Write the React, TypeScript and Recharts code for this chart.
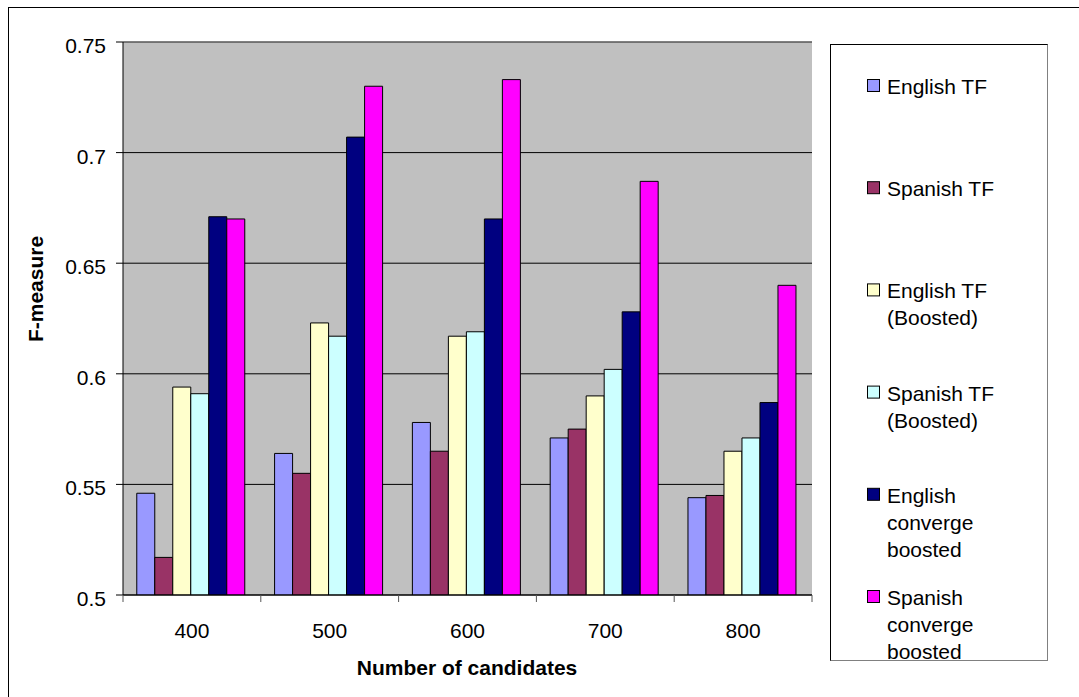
import React from 'react';
import { BarChart, Bar, XAxis, YAxis, CartesianGrid, ReferenceLine } from 'recharts';

const categories = ['400', '500', '600', '700', '800'];
const englishTF = [0.546, 0.564, 0.578, 0.571, 0.544];
const spanishTF = [0.517, 0.555, 0.565, 0.575, 0.545];
const englishTFBoosted = [0.594, 0.623, 0.617, 0.590, 0.565];
const spanishTFBoosted = [0.591, 0.617, 0.619, 0.602, 0.571];
const englishConverge = [0.671, 0.707, 0.670, 0.628, 0.587];
const spanishConverge = [0.670, 0.730, 0.733, 0.687, 0.640];
const yTicks = [0.5, 0.55, 0.6, 0.65, 0.7, 0.75];

const seriesNames = [
  'English TF',
  'Spanish TF',
  'English TF (Boosted)',
  'Spanish TF (Boosted)',
  'English converge boosted',
  'Spanish converge boosted',
];
const seriesColors = ['#9999FF', '#993366', '#FFFFCC', '#CCFFFF', '#000080', '#FF00FF'];
const seriesValues = [englishTF, spanishTF, englishTFBoosted, spanishTFBoosted, englishConverge, spanishConverge];

const series = seriesNames.map((name, i) => ({ key: 's' + i, name, color: seriesColors[i], values: seriesValues[i] }));

const data = categories.map((c, ci) => {
  const row: Record<string, any> = { category: c };
  series.forEach((s) => {
    row[s.key] = s.values[ci];
  });
  return row;
});

const FONT = '"Liberation Sans", Arial, sans-serif';

function wrap(text: string, maxChars: number): string[] {
  const words = text.split(' ');
  const lines: string[] = [];
  let cur = '';
  words.forEach((w) => {
    if (cur === '') cur = w;
    else if ((cur + ' ' + w).length <= maxChars) cur = cur + ' ' + w;
    else {
      lines.push(cur);
      cur = w;
    }
  });
  if (cur) lines.push(cur);
  return lines;
}

const XTick = (props: any) => {
  const { x, y, payload, index } = props;
  const axisW = typeof props.width === 'number' && props.width > 0 ? props.width : 689;
  const bw = axisW / categories.length;
  return (
    <g>
      <line x1={x - bw / 2} x2={x - bw / 2} y1={y} y2={y + 7} stroke="#555" strokeWidth={1} />
      {index === categories.length - 1 && (
        <line x1={x + bw / 2} x2={x + bw / 2} y1={y} y2={y + 7} stroke="#555" strokeWidth={1} />
      )}
      <text x={x} y={y + 43} textAnchor="middle" fontSize={21} fontFamily={FONT} fill="#000">
        {payload.value}
      </text>
    </g>
  );
};

const YTick = (props: any) => {
  const { x, y, payload } = props;
  return (
    <text x={x} y={y + 11} textAnchor="end" fontSize={21} fontFamily={FONT} fill="#000">
      {String(payload.value)}
    </text>
  );
};

export default function App() {
  return (
    <div style={{ position: 'fixed', left: 0, top: 0, width: 1079, height: 697, background: '#fff', overflow: 'hidden' }}>
      <div style={{ position: 'absolute', left: 8, top: 7, width: 1200, height: 1, background: '#000' }} />
      <div style={{ position: 'absolute', left: 8, top: 7, width: 1, height: 800, background: '#000' }} />
      <div style={{ position: 'absolute', left: 0, top: 0 }}>
        <BarChart
          width={1079}
          height={697}
          data={data}
          margin={{ top: 42, right: 267, bottom: 72, left: 0 }}
          barCategoryGap="10%"
          barGap={0}
        >
          <CartesianGrid vertical={false} stroke="#000" fill="#C0C0C0" fillOpacity={1} />
          <XAxis
            dataKey="category"
            height={30}
            axisLine={{ stroke: '#000', strokeWidth: 1 }}
            tickLine={false}
            tickSize={0}
            tickMargin={0}
            interval={0}
            tick={<XTick />}
            label={{
              content: () => (
                <text x={467} y={675} textAnchor="middle" fontSize={21} fontWeight="bold" fontFamily={FONT} fill="#000">
                  Number of candidates
                </text>
              ),
            }}
          />
          <YAxis
            width={123}
            domain={[0.5, 0.75]}
            ticks={yTicks}
            interval={0}
            allowDataOverflow
            axisLine={{ stroke: '#000', strokeWidth: 1 }}
            tickLine={{ stroke: '#000', strokeWidth: 1 }}
            tickSize={7}
            tickMargin={10}
            tick={<YTick />}
            label={{
              content: () => (
                <text
                  transform="translate(43,289) rotate(-90)"
                  textAnchor="middle"
                  fontSize={21}
                  fontWeight="bold"
                  fontFamily={FONT}
                  fill="#000"
                >
                  F-measure
                </text>
              ),
            }}
          />
          <YAxis
            yAxisId="right"
            orientation="right"
            width={0}
            domain={[0.5, 0.75]}
            tick={false}
            tickLine={false}
            axisLine={{ stroke: '#808080', strokeWidth: 1 }}
          />
          <ReferenceLine y={0.75} stroke="#808080" strokeWidth={1} />
          {series.map((s) => (
            <Bar
              key={s.key}
              dataKey={s.key}
              name={s.name}
              fill={s.color}
              stroke="#000"
              strokeWidth={1}
              isAnimationActive={false}
            />
          ))}
        </BarChart>
      </div>
      <div
        style={{
          position: 'absolute',
          left: 830,
          top: 44,
          width: 218,
          height: 617,
          boxSizing: 'border-box',
          borderLeft: '1px solid #000',
          borderTop: '1px solid #000',
          borderRight: '1px solid #808080',
          borderBottom: '1px solid #808080',
          overflow: 'hidden',
          background: '#fff',
        }}
      >
        <svg width={218} height={617} style={{ position: 'absolute', left: -1, top: -1 }}>
          {series.map((s, i) => {
            const base = 50 + i * 102.2;
            const lines = wrap(s.name, 10);
            return (
              <g key={s.key}>
                <rect x={37.5} y={base - 14.5} width={12} height={12} fill={s.color} stroke="#000" strokeWidth={1} />
                {lines.map((ln, li) => (
                  <text key={li} x={57} y={base + li * 27} fontSize={21} fontFamily={FONT} fill="#000">
                    {ln}
                  </text>
                ))}
              </g>
            );
          })}
        </svg>
      </div>
    </div>
  );
}
